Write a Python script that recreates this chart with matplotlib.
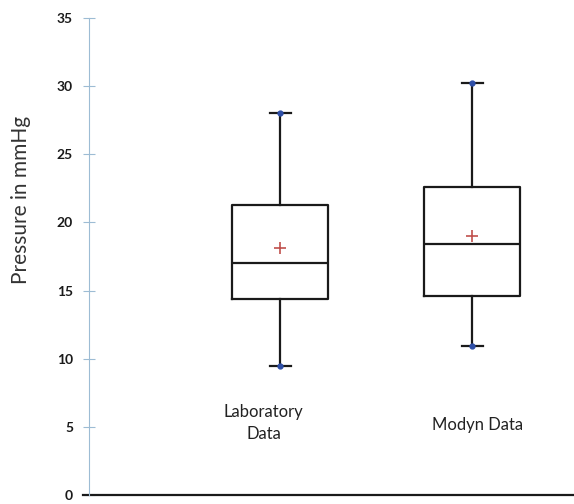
import matplotlib.pyplot as plt

# data
groups = ["Laboratory\nData", "Modyn Data"]
whislo = [9.5, 10.9]
q1 = [14.4, 14.6]
med = [17.0, 18.4]
q3 = [21.3, 22.6]
whishi = [28.0, 30.2]
means = [18.1, 19.0]

plt.rcParams['font.family'] = ['Lato', 'DejaVu Sans']

fig = plt.figure(figsize=(5.74, 5.04), dpi=100)
ax = fig.add_axes([89/574, 9/504, 485/574, 477/504])

stats = []
for i in range(len(groups)):
    stats.append(dict(whislo=whislo[i], q1=q1[i], med=med[i], q3=q3[i],
                      whishi=whishi[i], mean=means[i], fliers=[], label=groups[i]))

pos = [1, 2]
ax.bxp(stats, positions=pos, widths=0.5, showmeans=True, showfliers=False,
       boxprops=dict(color="#1a1a1a", linewidth=1.6),
       medianprops=dict(color="#1a1a1a", linewidth=1.6),
       whiskerprops=dict(color="#1a1a1a", linewidth=1.6),
       capprops=dict(color="#1a1a1a", linewidth=1.6),
       capwidths=0.11,
       meanprops=dict(marker="+", markeredgecolor="#c0504d", markersize=9, markeredgewidth=1.2))

# blue dots at whisker ends
for i in range(len(groups)):
    ax.plot([pos[i], pos[i]], [whislo[i], whishi[i]], linestyle="none", marker="o",
            markersize=3.5, color="#2e4fa8", zorder=5)

# category labels inside the plot
ax.text(pos[0] - 0.085, 5.3, groups[0], ha="center", va="center", fontsize=12,
        color="#222222", linespacing=1.45)
ax.text(pos[1] + 0.03, 5.1, groups[1], ha="center", va="center", fontsize=12, color="#222222")

ax.set_xlim(0.005, 2.53)
ax.set_ylim(0, 35)
ax.set_yticks(range(0, 36, 5))
ax.set_xticks([])
for lab in ax.get_yticklabels():
    lab.set_fontweight("bold")
ax.tick_params(axis="y", direction="inout", length=9, color="#9dbcd4", labelsize=10,
               labelcolor="#1a1a1a", pad=7)

fig.text(21/574, 1 - 200/504, "Pressure in mmHg", rotation=90, ha="center", va="center",
         fontsize=15, color="#333333")

for s in ["top", "right", "bottom"]:
    ax.spines[s].set_visible(False)
ax.spines["left"].set_color("#9dbcd4")
ax.plot([-0.012, 1], [0, 0], transform=ax.transAxes, color="#1a1a1a", linewidth=1.6, clip_on=False)

fig.savefig("out.png", dpi=100)
